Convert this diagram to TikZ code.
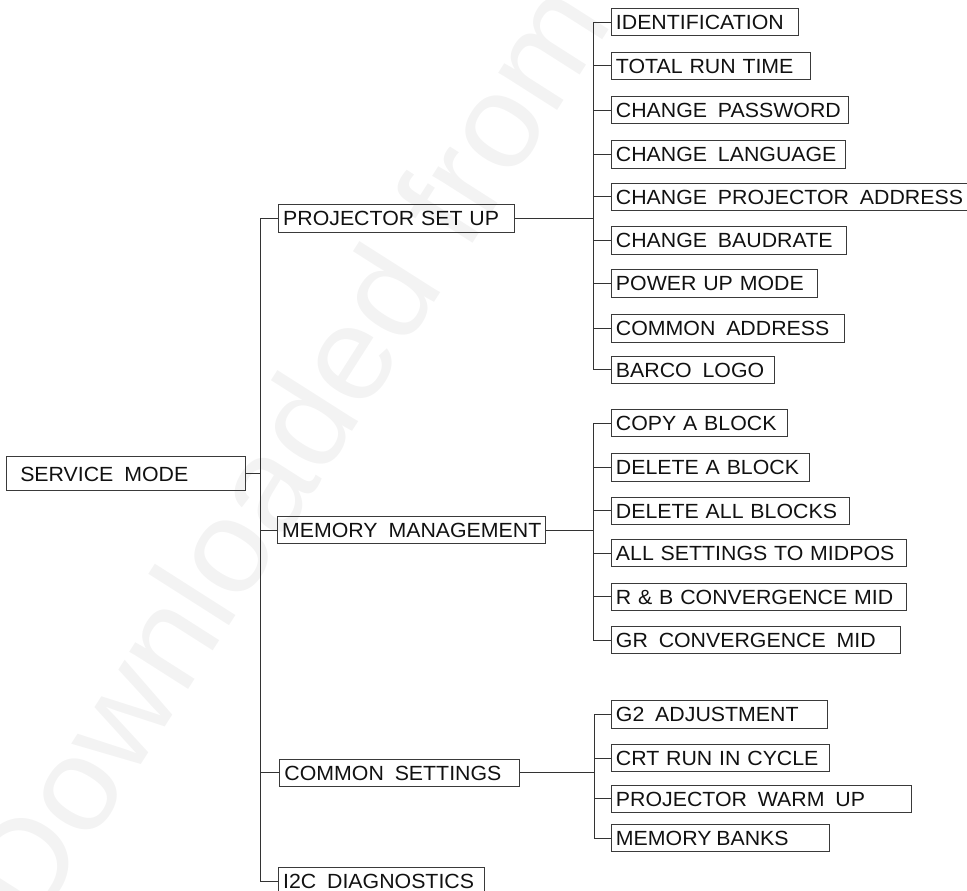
\documentclass[tikz,border=0pt]{standalone}
\usepackage{fontspec}
\setmainfont{Liberation Sans}[FakeStretch=1.04]
\usetikzlibrary{calc,backgrounds}
\definecolor{ink}{HTML}{111111}
\definecolor{frame}{HTML}{3A3A3A}
\definecolor{wire}{HTML}{333333}
\definecolor{ghost}{HTML}{F3F3F3}
\newcommand{\wgap}{\hspace{4pt}}

\begin{document}
\begin{tikzpicture}[
  x=1pt, y=-1pt,
  font=\fontsize{20.5}{24}\selectfont,
  box/.style={draw=frame, line width=0.9pt, anchor=west, align=left, text=ink,
              inner xsep=5pt, inner ysep=0pt, minimum height=27.5pt,
              text height=14.7pt, text depth=0pt},
  link/.style={draw=wire, line width=0.8pt},
  watermark/.style={text=ghost, font=\fontsize{132}{140}\selectfont}
]
\useasboundingbox (0,0) rectangle (967,891);
\clip (0,0) rectangle (967,891);

% faint watermark
\node[watermark, rotate=57.5] (mark) at (285,450) {Downloaded from};

% root
\node[box, minimum height=34pt, inner xsep=13.5pt, text width=212pt] (svc) at (6.3,473.7) {SERVICE\wgap{} MODE};

% first level
\node[box, text width=226.6pt] (setup)  at (277.7,218.5) {PROJECTOR SET UP};
\node[box, text width=258.3pt] (memory) at (276.7,530.0) {\mbox{MEMORY\wgap{} MANAGEMENT}};
\node[box, text width=230.3pt] (common) at (279.0,772.7) {COMMON\wgap{} SETTINGS};
\node[box, text width=196.3pt] (i2c)    at (277.7,881.0) {I2C\wgap{} DIAGNOSTICS};

% projector set up
\node[box, text width=177pt] (ident)   at (610.5,22.2)  {IDENTIFICATION};
\node[box, text width=189pt] (runtime) at (610.5,65.8)  {TOTAL RUN TIME};
\node[box, text width=227pt] (passwd)  at (610.5,110.0) {CHANGE\wgap{} PASSWORD};
\node[box, text width=224pt] (lang)    at (610.5,154.2) {CHANGE\wgap{} LANGUAGE};
\node[box, text width=355pt] (addr)    at (610.5,196.7) {CHANGE\wgap{} PROJECTOR\wgap{} ADDRESS};
\node[box, text width=225pt] (baud)    at (610.5,240.5) {CHANGE\wgap{} BAUDRATE};
\node[box, text width=196pt] (powerup) at (610.5,283.3) {POWER UP MODE};
\node[box, text width=223pt] (comaddr) at (610.5,328.5) {COMMON\wgap{} ADDRESS};
\node[box, text width=153pt] (logo)    at (610.5,369.8) {BARCO\wgap{} LOGO};

% memory management
\node[box, text width=166pt] (copy)   at (610.5,423.0) {COPY A BLOCK};
\node[box, text width=188pt] (delone) at (610.5,467.3) {DELETE A BLOCK};
\node[box, text width=228pt] (delall) at (610.5,510.8) {DELETE ALL BLOCKS};
\node[box, text width=285pt] (midpos) at (610.5,553.0) {ALL SETTINGS TO MIDPOS};
\node[box, text width=285pt] (rbconv) at (610.5,596.7) {R \& B CONVERGENCE MID};
\node[box, text width=279pt] (grconv) at (610.5,640.0) {GR\wgap{} CONVERGENCE\wgap{} MID};

% common settings
\node[box, text width=206.7pt] (gtwo)   at (610.5,714.5) {G2\wgap{} ADJUSTMENT};
\node[box, text width=208pt]   (crtrun) at (610.5,758.0) {CRT RUN IN CYCLE};
\node[box, text width=290pt]   (warmup) at (610.5,798.8) {PROJECTOR\wgap{} WARM\wgap{} UP};
\node[box, text width=208pt]   (banks)  at (610.5,838.0) {MEMORY\hspace{-2pt} BANKS};

% junctions
\coordinate (j0) at ($(svc.east)+(14.5,0)$);
\coordinate (j1) at ($(setup.east -| ident.west)+(-17,0)$);
\coordinate (j2) at ($(memory.east -| copy.west)+(-17,0)$);
\coordinate (j3) at ($(common.east -| gtwo.west)+(-16,0)$);

% root to first level
\draw[link] (svc.east) -- (j0);
\draw[link] (setup.west) -| (j0);
\draw[link] (i2c.west) -| (j0);
\draw[link] (memory.west) -- (memory.west -| j0);
\draw[link] (common.west) -- (common.west -| j0);

% projector set up branch
\draw[link] (setup.east) -- (j1);
\draw[link] (ident.west) -| (j1);
\draw[link] (logo.west) -| (j1);
\draw[link] (runtime.west) -- (runtime.west -| j1);
\draw[link] (passwd.west) -- (passwd.west -| j1);
\draw[link] (lang.west) -- (lang.west -| j1);
\draw[link] (addr.west) -- (addr.west -| j1);
\draw[link] (baud.west) -- (baud.west -| j1);
\draw[link] (powerup.west) -- (powerup.west -| j1);
\draw[link] (comaddr.west) -- (comaddr.west -| j1);

% memory management branch
\draw[link] (memory.east) -- (j2);
\draw[link] (copy.west) -| (j2);
\draw[link] (grconv.west) -| (j2);
\draw[link] (delone.west) -- (delone.west -| j2);
\draw[link] (delall.west) -- (delall.west -| j2);
\draw[link] (midpos.west) -- (midpos.west -| j2);
\draw[link] (rbconv.west) -- (rbconv.west -| j2);

% common settings branch
\draw[link] (common.east) -- (j3);
\draw[link] (gtwo.west) -| (j3);
\draw[link] (banks.west) -| (j3);
\draw[link] (crtrun.west) -- (crtrun.west -| j3);
\draw[link] (warmup.west) -- (warmup.west -| j3);

\end{tikzpicture}
\end{document}
